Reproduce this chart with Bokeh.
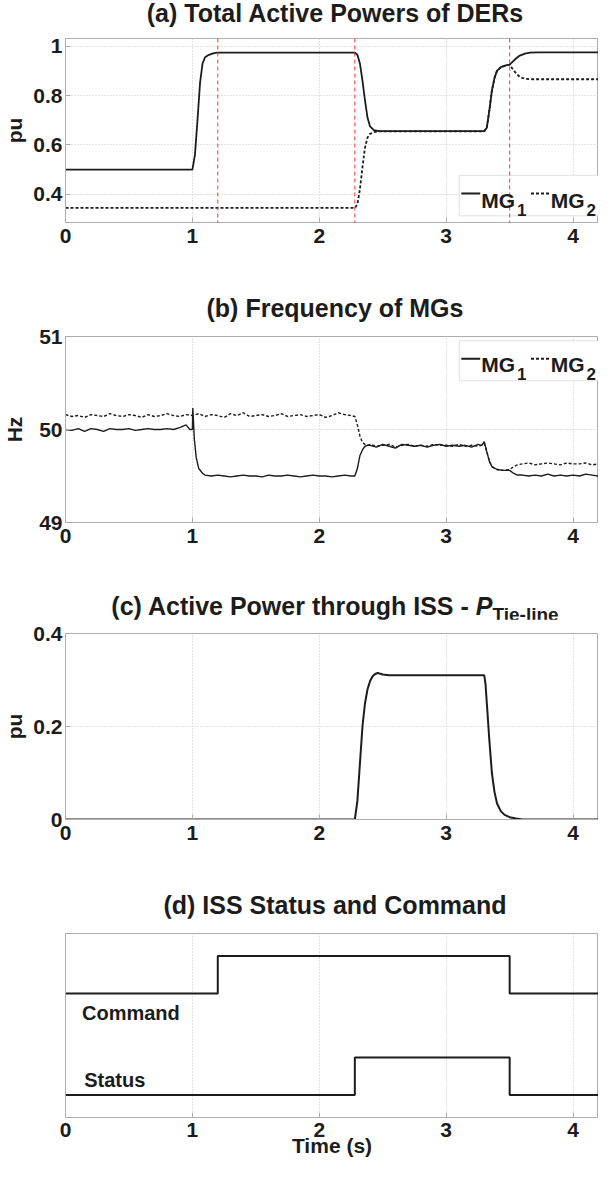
from bokeh.plotting import figure
from bokeh.layouts import column
from bokeh.models import Range1d, FixedTicker, Span, Label, BoxAnnotation, Div
from bokeh.embed import file_html
from bokeh.resources import INLINE

# ---------------- data ----------------
x_ticks = [0, 1, 2, 3, 4]
event_times = [1.2, 2.28, 3.5]          # ISS command / status instants (red markers)

# (a) Total active powers of DERs (pu)
pa_t_mg1 = [0.0, 1.0, 1.02, 1.04, 1.06, 1.08, 1.10, 1.13, 1.17, 1.20,
            2.28, 2.30, 2.32, 2.34, 2.36, 2.38, 2.40, 2.43, 2.47,
            3.30, 3.32, 3.34, 3.36, 3.38, 3.40, 3.43, 3.47, 3.50,
            3.52, 3.55, 3.58, 3.62, 3.66, 3.72, 4.2]
pa_mg1 = [0.500, 0.500, 0.560, 0.700, 0.850, 0.930, 0.955, 0.965, 0.972, 0.974,
          0.974, 0.965, 0.930, 0.860, 0.780, 0.710, 0.675, 0.660, 0.656,
          0.656, 0.670, 0.740, 0.820, 0.870, 0.900, 0.915, 0.922, 0.925,
          0.935, 0.950, 0.962, 0.970, 0.974, 0.975, 0.975]
pa_t_mg2 = [0.0, 2.28, 2.30, 2.32, 2.34, 2.36, 2.38, 2.40, 2.43, 2.47,
            3.30, 3.32, 3.34, 3.36, 3.38, 3.40, 3.43, 3.47, 3.50,
            3.52, 3.55, 3.58, 3.62, 3.68, 4.2]
pa_mg2 = [0.345, 0.345, 0.360, 0.420, 0.510, 0.590, 0.630, 0.645, 0.652, 0.655,
          0.655, 0.670, 0.740, 0.820, 0.870, 0.900, 0.915, 0.922, 0.925,
          0.910, 0.890, 0.875, 0.868, 0.866, 0.866]
a_yticks = [0.4, 0.6, 0.8, 1.0]
a_ylabels = ["0.4", "0.6", "0.8", "1"]

# (b) Frequency of MGs (Hz)
fb_t_mg1 = [0.00, 0.05, 0.10, 0.15, 0.20, 0.25, 0.30, 0.35, 0.40, 0.45,
            0.50, 0.55, 0.60, 0.65, 0.70, 0.75, 0.80, 0.85, 0.90, 0.95,
            0.98, 1.00, 1.003, 1.008, 1.015, 1.03, 1.05, 1.08, 1.10,
            1.15, 1.20, 1.25, 1.30, 1.35, 1.40, 1.45, 1.50, 1.55, 1.60,
            1.65, 1.70, 1.75, 1.80, 1.85, 1.90, 1.95, 2.00, 2.05, 2.10,
            2.15, 2.20, 2.25,
            2.28, 2.30, 2.32, 2.34, 2.36, 2.38,
            2.40, 2.45, 2.50, 2.55, 2.60, 2.65, 2.70, 2.75, 2.80, 2.85,
            2.90, 2.95, 3.00, 3.05, 3.10, 3.15, 3.20, 3.25,
            3.28, 3.30, 3.32, 3.34, 3.36, 3.40, 3.45, 3.50, 3.53, 3.56,
            3.60, 3.65, 3.70, 3.75, 3.80, 3.85, 3.90, 3.95, 4.00, 4.05,
            4.10, 4.15, 4.20]
fb_mg1 = [50.00, 49.99, 50.01, 49.98, 50.01, 50.00, 49.98, 50.01, 50.00, 50.00,
          50.01, 49.99, 50.00, 50.01, 50.00, 50.00, 50.01, 50.00, 50.02, 50.05,
          50.00, 50.00, 50.23, 50.10, 49.90, 49.70, 49.58, 49.53, 49.51,
          49.50, 49.51, 49.50, 49.49, 49.50, 49.51, 49.50, 49.50, 49.49, 49.51,
          49.50, 49.50, 49.51, 49.50, 49.49, 49.50, 49.51, 49.50, 49.50, 49.49,
          49.50, 49.51, 49.50,
          49.50, 49.58, 49.72, 49.78, 49.82, 49.83,
          49.83, 49.81, 49.84, 49.82, 49.80, 49.84, 49.83, 49.82, 49.83, 49.81,
          49.83, 49.84, 49.82, 49.83, 49.82, 49.83, 49.81, 49.84,
          49.83, 49.87, 49.76, 49.66, 49.60, 49.57, 49.56, 49.56, 49.53, 49.51,
          49.51, 49.50, 49.51, 49.50, 49.52, 49.50, 49.51, 49.50, 49.51, 49.50,
          49.52, 49.51, 49.50]
fb_t_mg2 = [0.00, 0.05, 0.10, 0.15, 0.20, 0.25, 0.30, 0.35, 0.40, 0.45,
            0.50, 0.55, 0.60, 0.65, 0.70, 0.75, 0.80, 0.85, 0.90, 0.95,
            1.00, 1.05, 1.10, 1.15, 1.20, 1.25, 1.30, 1.35, 1.40, 1.45,
            1.50, 1.55, 1.60, 1.65, 1.70, 1.75, 1.80, 1.85, 1.90, 1.95,
            2.00, 2.05, 2.10, 2.15, 2.20, 2.25,
            2.28, 2.30, 2.32, 2.34, 2.36, 2.38,
            2.40, 2.45, 2.50, 2.55, 2.60, 2.65, 2.70, 2.75, 2.80, 2.85,
            2.90, 2.95, 3.00, 3.05, 3.10, 3.15, 3.20, 3.25,
            3.28, 3.30, 3.32, 3.34, 3.36, 3.40, 3.45, 3.50, 3.53, 3.56,
            3.60, 3.65, 3.70, 3.75, 3.80, 3.85, 3.90, 3.95, 4.00, 4.05,
            4.10, 4.15, 4.20]
fb_mg2 = [50.16, 50.14, 50.15, 50.13, 50.16, 50.15, 50.14, 50.17, 50.15, 50.14,
          50.16, 50.15, 50.13, 50.16, 50.14, 50.15, 50.17, 50.15, 50.14, 50.16,
          50.15, 50.17, 50.14, 50.16, 50.15, 50.13, 50.17, 50.15, 50.18, 50.14,
          50.15, 50.16, 50.14, 50.15, 50.17, 50.14, 50.15, 50.16, 50.14, 50.15,
          50.16, 50.13, 50.15, 50.18, 50.16, 50.15,
          50.14, 50.05, 49.93, 49.86, 49.84, 49.83,
          49.84, 49.82, 49.83, 49.84, 49.81, 49.83, 49.84, 49.82, 49.83, 49.82,
          49.84, 49.83, 49.83, 49.82, 49.84, 49.82, 49.83, 49.82,
          49.83, 49.85, 49.76, 49.66, 49.60, 49.57, 49.56, 49.57, 49.60, 49.62,
          49.63, 49.64, 49.62, 49.63, 49.64, 49.63, 49.62, 49.64, 49.63, 49.63,
          49.64, 49.62, 49.63]
b_yticks = [49, 50, 51]
b_ylabels = ["49", "50", "51"]

# (c) Active power through ISS (pu)
pc_t = [0.0, 2.28, 2.30, 2.32, 2.34, 2.36, 2.38, 2.40, 2.42, 2.44, 2.46, 2.50, 2.55,
        3.30, 3.31, 3.32, 3.34, 3.36, 3.38, 3.40, 3.43, 3.46, 3.50, 3.55, 3.60, 4.2]
pc_tie = [0.0, 0.0, 0.040, 0.120, 0.200, 0.250, 0.280, 0.298, 0.308, 0.313, 0.315, 0.312, 0.310,
          0.310, 0.290, 0.250, 0.170, 0.100, 0.060, 0.035, 0.018, 0.010, 0.005, 0.002, 0.0, 0.0]
c_yticks = [0.0, 0.2, 0.4]
c_ylabels = ["0", "0.2", "0.4"]

# (d) ISS status and command (0 = open, 1 = closed)
cmd_t = [0.0, 1.2, 3.5, 4.2]
cmd_v = [0, 1, 0, 0]
st_t = [0.0, 2.28, 3.5, 4.2]
st_v = [0, 1, 0, 0]

titles = ["(a) Total Active Powers of DERs",
          "(b) Frequency of MGs",
          '(c) Active Power through ISS - <i>P</i><sub style="font-size:19px">Tie-line</sub>',
          "(d) ISS Status and Command"]

# ---------------- style ----------------
FONT = "Liberation Sans"
INK = "#1c1c1c"
GRID = "#c6c6c6"
FRAME = "#adadad"
W = 598
XR = (0, 4.2)
CMD_BASE = 2.7   # vertical offset of the command trace in panel (d)


def title_div(text, height, pad_top):
    return Div(text=text, width=W, height=height, margin=0,
               styles={"font-family": FONT, "font-size": "25px", "font-weight": "bold",
                       "color": INK, "text-align": "center", "padding-left": "72px",
                       "padding-top": f"{pad_top}px", "line-height": "26px",
                       "box-sizing": "border-box", "white-space": "nowrap"})


def base_fig(height, top, bottom, yr):
    p = figure(width=W, height=height, x_range=Range1d(*XR), y_range=Range1d(*yr),
               output_backend="svg", toolbar_location=None,
               min_border_left=62, min_border_right=0,
               min_border_top=top, min_border_bottom=bottom)
    p.outline_line_color = FRAME
    p.background_fill_color = "white"
    p.border_fill_color = "white"
    p.xaxis.ticker = FixedTicker(ticks=x_ticks)
    for ax in p.axis:
        ax.axis_line_color = FRAME
        ax.major_tick_line_color = FRAME
        ax.major_tick_in = 5
        ax.major_tick_out = 0
        ax.minor_tick_line_color = None
        ax.major_label_text_font = FONT
        ax.major_label_text_font_size = "21px"
        ax.major_label_text_font_style = "bold"
        ax.major_label_text_color = INK
        ax.axis_label_text_font = FONT
        ax.axis_label_text_font_size = "21px"
        ax.axis_label_text_font_style = "bold"
        ax.axis_label_text_color = INK
    p.xaxis.major_label_standoff = 6
    p.yaxis.major_label_standoff = 3
    p.grid.grid_line_color = GRID
    p.grid.grid_line_dash = "1 2"
    p.grid.grid_line_width = 1
    return p


def set_yticks(p, ticks, labels):
    p.yaxis.ticker = FixedTicker(ticks=ticks)
    p.yaxis.major_label_overrides = {t: l for t, l in zip(ticks, labels)}


def txt(p, x, y, s, size="21px", align="left", baseline="alphabetic", style="bold"):
    p.add_layout(Label(x=x, y=y, text=s, text_font=FONT, text_font_size=size,
                       text_font_style=style, text_color=INK,
                       text_align=align, text_baseline=baseline))


def legend(p, left, top, bottom, y_line, y_base, y_sub):
    p.add_layout(BoxAnnotation(left=left, right=XR[1], top=top, bottom=bottom,
                               fill_color="white", fill_alpha=1.0,
                               line_color="#9a9a9a", line_width=1, level="underlay"))
    p.segment(x0=[left + 0.016], x1=[left + 0.165], y0=[y_line], y1=[y_line],
              line_color=INK, line_width=2)
    txt(p, left + 0.173, y_base, "MG", size="21px")
    txt(p, left + 0.455, y_sub, "1", size="17px")
    p.segment(x0=[left + 0.565], x1=[left + 0.714], y0=[y_line], y1=[y_line],
              line_color=INK, line_width=2, line_dash="3 2")
    txt(p, left + 0.721, y_base, "MG", size="21px")
    txt(p, left + 1.003, y_sub, "2", size="17px")


# ---------------- (a) ----------------
ta = title_div(titles[0], 28, 0)
pa = base_fig(254, 10, 60, (0.286, 1.031))
set_yticks(pa, a_yticks, a_ylabels)
pa.yaxis.axis_label = "pu"
pa.yaxis.axis_label_standoff = 4
for t in event_times:
    pa.add_layout(Span(location=t, dimension="height", line_color="#ff3333",
                       line_dash="4 3", line_width=1))
pa.line(pa_t_mg2, pa_mg2, line_color=INK, line_width=1.8, line_dash="3 2")
pa.line(pa_t_mg1, pa_mg1, line_color=INK, line_width=1.8)
legend(pa, 3.103, 0.477, 0.313, 0.403, 0.375, 0.335)

# ---------------- (b) ----------------
tb = title_div(titles[1], 40, 13)
pb = base_fig(250, 14, 50, (49, 51))
set_yticks(pb, b_yticks, b_ylabels)
pb.yaxis.axis_label = "Hz"
pb.yaxis.axis_label_standoff = 10
pb.line(fb_t_mg2, fb_mg2, line_color=INK, line_width=1.4, line_dash="3 2")
pb.line(fb_t_mg1, fb_mg1, line_color=INK, line_width=1.4)
legend(pb, 3.103, 50.954, 50.524, 50.76, 50.70, 50.595)

# ---------------- (c) ----------------
tc = title_div(titles[2], 47, 21)
pc = base_fig(243, 14, 43, (0, 0.4))
set_yticks(pc, c_yticks, c_ylabels)
pc.yaxis.axis_label = "pu"
pc.yaxis.axis_label_standoff = 4
pc.line(pc_t, pc_tie, line_color=INK, line_width=2)

# ---------------- (d) ----------------
td = title_div(titles[3], 56, 30)
pd_ = base_fig(244, 15, 45, (-0.6, 4.3))
pd_.yaxis.ticker = FixedTicker(ticks=[])
pd_.xaxis.axis_label = "Time (s)"
pd_.xaxis.axis_label_standoff = -6
pd_.xaxis.major_label_standoff = 5
pd_.step(cmd_t, [v + CMD_BASE for v in cmd_v], mode="after", line_color=INK, line_width=2)
pd_.step(st_t, st_v, mode="after", line_color=INK, line_width=2)
txt(pd_, 0.13, 2.19, "Command", size="20px", baseline="middle")
txt(pd_, 0.147, 0.39, "Status", size="20px", baseline="middle")

layout = column(ta, pa, tb, pb, tc, pc, td, pd_, spacing=0)
open("out.html", "w").write(file_html(layout, INLINE))
